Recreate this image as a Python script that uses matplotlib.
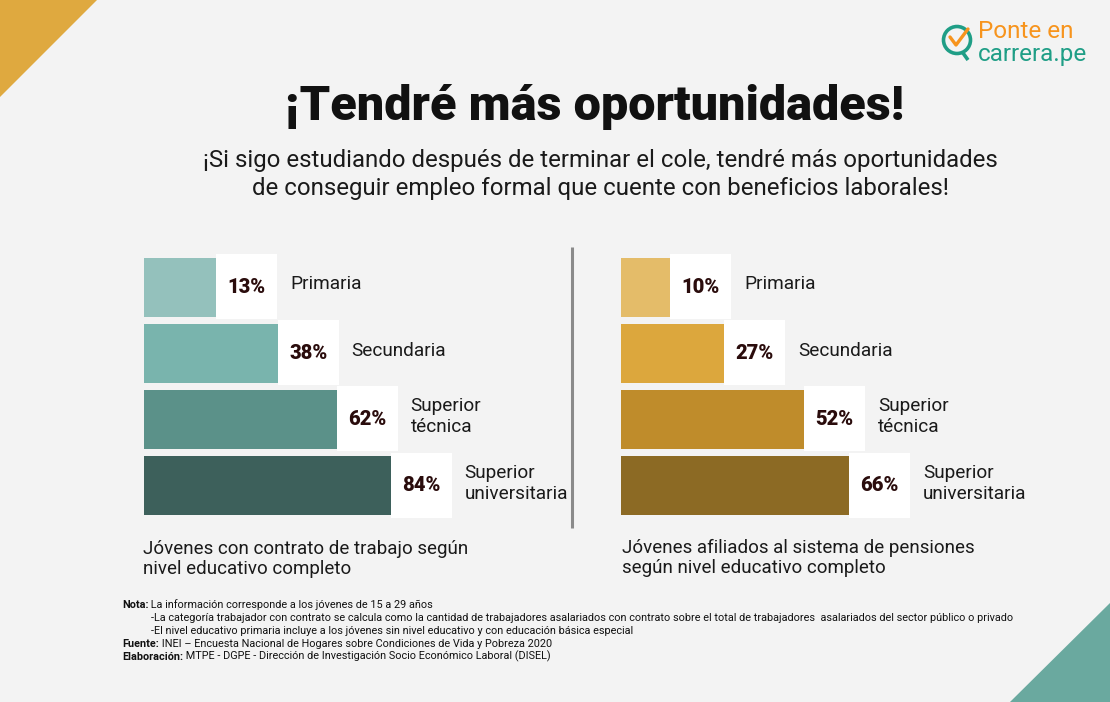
import numpy as np
import matplotlib.pyplot as plt
from matplotlib.patches import Rectangle, Polygon, Circle

# ---- data ----
categories = ["Primaria", "Secundaria", "Superior\ntécnica", "Superior\nuniversitaria"]
contrato = [13, 38, 62, 84]
pensiones = [10, 27, 52, 66]
value_labels_left = ["13%", "38%", "62%", "84%"]
value_labels_right = ["10%", "27%", "52%", "66%"]
teal_colors = ["#94c1bc", "#79b4ad", "#5b9189", "#3d605b"]
gold_colors = ["#e4bc69", "#dca73d", "#bf8c2b", "#8c6a24"]

W, H = 1110, 702
BG = "#f3f3f3"

plt.rcParams['font.family'] = ['Roboto', 'DejaVu Sans']

fig = plt.figure(figsize=(W / 100, H / 100), dpi=100, facecolor=BG)

# background axes in pixel coordinates
bg = fig.add_axes([0, 0, 1, 1])
bg.set_xlim(0, W)
bg.set_ylim(H, 0)
bg.axis('off')
bg.set_facecolor(BG)

bg.add_patch(Polygon([(0, 0), (97, 0), (0, 97)], closed=True, color="#dfa93f", lw=0))
bg.add_patch(Polygon([(W, 603), (W, H), (1010, H)], closed=True, color="#6aa99f", lw=0))

# divider
bg.plot([572, 572], [247, 528], color="#8a8a8a", lw=2.2, solid_capstyle='butt')

# logo
bg.add_patch(Circle((957, 40), 13.5, fill=False, ec="#1f9e86", lw=2.6))
bg.plot([963, 968], [53, 60], color="#1f9e86", lw=2.6, solid_capstyle='butt')
bg.plot([950, 956, 968], [37, 45, 29], color="#f7941d", lw=2.4, solid_capstyle='round')
bg.text(978, 32, "Ponte en", fontsize=17.5, color="#f7941d", ha='left', va='center')
bg.text(978, 54, "carrera.pe", fontsize=17.5, color="#1f9e86", ha='left', va='center')

# titles
bg.text(595, 107, "¡Tendré más oportunidades!", fontsize=35, fontweight='heavy',
        color="#111111", ha='center', va='center')
bg.text(600, 160, "¡Si sigo estudiando después de terminar el cole, tendré más oportunidades",
        fontsize=17.3, color="#1a1a1a", ha='center', va='center')
bg.text(600, 188, "de conseguir empleo formal que cuente con beneficios laborales!",
        fontsize=17.3, color="#1a1a1a", ha='center', va='center')

# panel captions
bg.text(143, 559, "Jóvenes con contrato de trabajo según\nnivel educativo completo",
        fontsize=13.5, color="#1a1a1a", ha='left', va='center', linespacing=1.18)
bg.text(622, 558, "Jóvenes afiliados al sistema de pensiones\nsegún nivel educativo completo",
        fontsize=13.5, color="#1a1a1a", ha='left', va='center', linespacing=1.18)


def panel(x0_px, x1_px, xlim, values, labels, colors):
    # axes spanning pixel box x0..x1 horizontally and 240..530 vertically
    ax = fig.add_axes([x0_px / W, 1 - 530 / H, (x1_px - x0_px) / W, 290 / H])
    ax.set_xlim(*xlim)
    ax.set_ylim(3.665, -0.709)
    ax.axis('off')
    ax.patch.set_alpha(0)
    ppu = (x1_px - x0_px) / (xlim[1] - xlim[0])
    start = xlim[0]
    y = np.arange(len(values))
    ax.barh(y, np.array(values) - start, left=start, height=0.89, color=colors, lw=0)
    box_w = 61 / ppu
    for yi, v, lab, cat in zip(y, values, labels, categories):
        ax.add_patch(Rectangle((v, yi - 0.5), box_w, 0.98, color="white", lw=0, zorder=3))
        ax.text(v + box_w / 2, yi, lab, fontsize=14.5, fontweight='heavy', color="#2a0c0c",
                ha='center', va='center', zorder=4)
        ax.text(v + box_w + 13 / ppu, yi - 0.04, cat, fontsize=13.7, color="#1a1a1a",
                ha='left', va='center', linespacing=1.22, zorder=4)
    return ax


panel(144, 560, (-16.5, -16.5 + 416 / 2.454), contrato, value_labels_left, teal_colors)
panel(621, 1060, (-5.4, -5.4 + 439 / 3.19), pensiones, value_labels_right, gold_colors)

# notes
nsize = 7.86
ncol = "#111111"
t = bg.text(122, 605, "Nota:", fontsize=nsize, fontweight='bold', ha='left', va='center', color=ncol)
bg.annotate(" La información corresponde a los jóvenes de 15 a 29 años", xy=(1, 0),
            xycoords=t, fontsize=nsize, ha='left', va='bottom', color=ncol)
bg.text(151, 618, "-La categoría trabajador con contrato se calcula como la cantidad de trabajadores "
        "asalariados con contrato sobre el total de trabajadores  asalariados del sector público o privado",
        fontsize=nsize, ha='left', va='center', color=ncol)
bg.text(151, 631, "-El nivel educativo primaria incluye a los jóvenes sin nivel educativo y con "
        "educación básica especial", fontsize=nsize, ha='left', va='center', color=ncol)
t = bg.text(122, 644, "Fuente:", fontsize=nsize, fontweight='bold', ha='left', va='center', color=ncol)
bg.annotate(" INEI – Encuesta Nacional de Hogares sobre Condiciones de Vida y Pobreza 2020",
            xy=(1, 0), xycoords=t, fontsize=nsize, ha='left', va='bottom', color=ncol)
t = bg.text(122, 657, "Elaboración:", fontsize=nsize, fontweight='bold', ha='left', va='center',
            color=ncol)
bg.annotate(" MTPE - DGPE - Dirección de Investigación Socio Económico Laboral (DISEL)",
            xy=(1, 0), xycoords=t, fontsize=nsize, ha='left', va='bottom', color=ncol)

fig.savefig("out.png", dpi=100, facecolor=BG)
